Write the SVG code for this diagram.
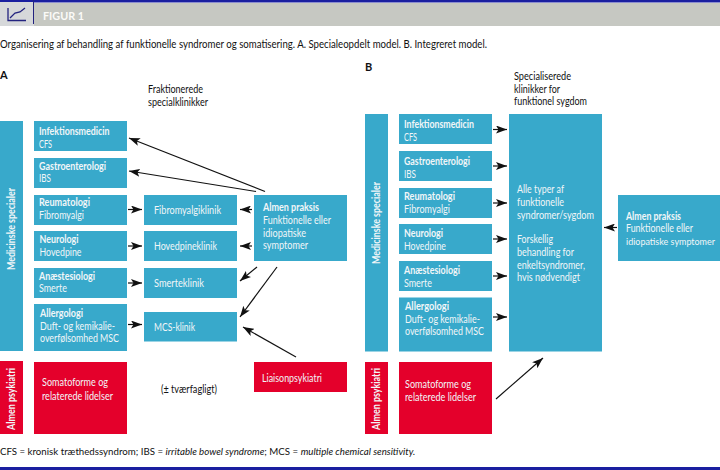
<svg xmlns="http://www.w3.org/2000/svg" width="720" height="470" viewBox="0 0 720 470">
<style>
text{font-family:Lato,"Liberation Sans",sans-serif;font-size:11px;fill:#111}
.w{fill:#f2f6f8}
.b{fill:#38a9cb}
.r{fill:#e4002b}
.c line{stroke:#111;stroke-width:1.2;marker-end:url(#a)}
.s{font-weight:700}
</style>
<defs><marker id="a" markerUnits="userSpaceOnUse" markerWidth="12" markerHeight="8" refX="11" refY="4" orient="auto"><path d="M0 0L11 4L0 8L2.500 4Z" fill="#111"/></marker></defs>
<rect width="720" height="470" fill="#fff"/>
<g id="header"><rect y="3" width="720" height="23" fill="#c6c8c2"/><rect y="0" width="720" height="2.500" fill="#1a1fa0"/><rect x="0" y="2" width="34" height="24" fill="#d6d8da"/><path d="M8 8V20.500H26M10 18L15 13L20 12L25 8" fill="none" stroke="#23237f" stroke-width="1.300"/><path d="M33.500 0V24" stroke="#23237f" stroke-width="1"/><text x="43" y="19.500" textLength="41" lengthAdjust="spacingAndGlyphs" style="font-weight:700;fill:#fbfbf8">FIGUR 1</text></g>
<text x="0" y="47.500" textLength="487" lengthAdjust="spacingAndGlyphs">Organisering af behandling af funktionelle syndromer og somatisering. A. Specialeopdelt model. B. Integreret model.</text>
<text x="0" y="79" class="s">A</text>
<text x="148" y="93" textLength="55" lengthAdjust="spacingAndGlyphs">Fraktionerede</text><text x="148" y="105.500" textLength="60" lengthAdjust="spacingAndGlyphs">specialklinikker</text>
<text x="365" y="71" class="s">B</text>
<text x="514" y="80" textLength="57" lengthAdjust="spacingAndGlyphs">Specialiserede</text><text x="514" y="92.500" textLength="46" lengthAdjust="spacingAndGlyphs">klinikker for</text><text x="514" y="105" textLength="73" lengthAdjust="spacingAndGlyphs">funktionel sygdom</text>

<g id="a-med"><rect class="b" x="0" y="121" width="23" height="230"/><text class="w s" transform="translate(15 270) rotate(-90)" textLength="82" lengthAdjust="spacingAndGlyphs">Medicinske specialer</text></g>
<g id="a-inf"><rect class="b" x="34" y="121" width="93" height="30"/><text class="w s" x="39" y="135" textLength="70.500" lengthAdjust="spacingAndGlyphs">Infektionsmedicin</text><text class="w" x="39" y="147.500" textLength="13" lengthAdjust="spacingAndGlyphs">CFS</text></g>
<g id="a-gas"><rect class="b" x="34" y="158" width="93" height="30"/><text class="w s" x="39" y="169.500" textLength="67" lengthAdjust="spacingAndGlyphs">Gastroenterologi</text><text class="w" x="39" y="182" textLength="12" lengthAdjust="spacingAndGlyphs">IBS</text></g>
<g id="a-reu"><rect class="b" x="34" y="195" width="93" height="30"/><text class="w s" x="39" y="206" textLength="51" lengthAdjust="spacingAndGlyphs">Reumatologi</text><text class="w" x="39" y="218.500" textLength="45" lengthAdjust="spacingAndGlyphs">Fibromyalgi</text></g>
<g id="a-neu"><rect class="b" x="34" y="231" width="93" height="30"/><text class="w s" x="39.500" y="243" textLength="39" lengthAdjust="spacingAndGlyphs">Neurologi</text><text class="w" x="39.500" y="255.500" textLength="42" lengthAdjust="spacingAndGlyphs">Hovedpine</text></g>
<g id="a-ana"><rect class="b" x="34" y="268" width="93" height="30"/><text class="w s" x="39" y="279.500" textLength="56" lengthAdjust="spacingAndGlyphs">Anæstesiologi</text><text class="w" x="39" y="292" textLength="28" lengthAdjust="spacingAndGlyphs">Smerte</text></g>
<g id="a-all"><rect class="b" x="34" y="304" width="93" height="47"/><text class="w s" x="40" y="317" textLength="43" lengthAdjust="spacingAndGlyphs">Allergologi</text><text class="w" x="40" y="329.500" textLength="75" lengthAdjust="spacingAndGlyphs">Duft- og kemikalie-</text><text class="w" x="40" y="342" textLength="79" lengthAdjust="spacingAndGlyphs">overfølsomhed MSC</text></g>
<g id="a-fib"><rect class="b" x="144" y="195" width="93" height="30"/><text class="w" x="154" y="214" textLength="67" lengthAdjust="spacingAndGlyphs">Fibromyalgiklinik</text></g>
<g id="a-hov"><rect class="b" x="144" y="231" width="93" height="30"/><text class="w" x="154" y="250" textLength="63" lengthAdjust="spacingAndGlyphs">Hovedpineklinik</text></g>
<g id="a-sme"><rect class="b" x="144" y="268" width="93" height="30"/><text class="w" x="154" y="287" textLength="50" lengthAdjust="spacingAndGlyphs">Smerteklinik</text></g>
<g id="a-mcs"><rect class="b" x="144" y="312" width="93" height="29.500"/><text class="w" x="154" y="331" textLength="41" lengthAdjust="spacingAndGlyphs">MCS-klinik</text></g>
<g id="a-alm"><rect class="b" x="254" y="195" width="93" height="66"/><text class="w s" x="263" y="211" textLength="56" lengthAdjust="spacingAndGlyphs">Almen praksis</text><text class="w" x="263" y="224" textLength="68" lengthAdjust="spacingAndGlyphs">Funktionelle eller</text><text class="w" x="263" y="236.500" textLength="43" lengthAdjust="spacingAndGlyphs">idiopatiske</text><text class="w" x="263" y="249" textLength="45" lengthAdjust="spacingAndGlyphs">symptomer</text></g>
<g id="a-psy"><rect class="r" x="0" y="361" width="23" height="73"/><text class="w s" transform="translate(15 430) rotate(-90)" textLength="62" lengthAdjust="spacingAndGlyphs">Almen psykiatri</text></g>
<g id="a-som"><rect class="r" x="34" y="362" width="93" height="72"/><text class="w" x="42" y="386" textLength="66" lengthAdjust="spacingAndGlyphs">Somatoforme og</text><text class="w" x="42" y="400" textLength="71" lengthAdjust="spacingAndGlyphs">relaterede lidelser</text></g>
<g id="a-lia"><rect class="r" x="254" y="362" width="93" height="30"/><text class="w" x="262" y="382" textLength="60" lengthAdjust="spacingAndGlyphs">Liaisonpsykiatri</text></g>
<text x="161" y="393" textLength="56" lengthAdjust="spacingAndGlyphs">(± tværfagligt)</text>

<g id="b-med"><rect class="b" x="365" y="114" width="23" height="237.500"/><text class="w s" transform="translate(380 264) rotate(-90)" textLength="82" lengthAdjust="spacingAndGlyphs">Medicinske specialer</text></g>
<g id="b-inf"><rect class="b" x="399" y="114" width="93" height="30"/><text class="w s" x="404" y="128" textLength="70" lengthAdjust="spacingAndGlyphs">Infektionsmedicin</text><text class="w" x="404" y="140.500" textLength="13" lengthAdjust="spacingAndGlyphs">CFS</text></g>
<g id="b-gas"><rect class="b" x="399" y="151" width="93" height="30"/><text class="w s" x="404" y="165" textLength="66" lengthAdjust="spacingAndGlyphs">Gastroenterologi</text><text class="w" x="404" y="177.500" textLength="12" lengthAdjust="spacingAndGlyphs">IBS</text></g>
<g id="b-reu"><rect class="b" x="399" y="188" width="93" height="30"/><text class="w s" x="404" y="200" textLength="51" lengthAdjust="spacingAndGlyphs">Reumatologi</text><text class="w" x="404" y="213" textLength="46" lengthAdjust="spacingAndGlyphs">Fibromyalgi</text></g>
<g id="b-neu"><rect class="b" x="399" y="224" width="93" height="30"/><text class="w s" x="404" y="237" textLength="39" lengthAdjust="spacingAndGlyphs">Neurologi</text><text class="w" x="404" y="249.500" textLength="42" lengthAdjust="spacingAndGlyphs">Hovedpine</text></g>
<g id="b-ana"><rect class="b" x="399" y="261" width="93" height="30"/><text class="w s" x="404" y="274" textLength="56" lengthAdjust="spacingAndGlyphs">Anæstesiologi</text><text class="w" x="404" y="286.500" textLength="28" lengthAdjust="spacingAndGlyphs">Smerte</text></g>
<g id="b-all"><rect class="b" x="399" y="297.500" width="93" height="54"/><text class="w s" x="405" y="310" textLength="44" lengthAdjust="spacingAndGlyphs">Allergologi</text><text class="w" x="405" y="322.500" textLength="75" lengthAdjust="spacingAndGlyphs">Duft- og kemikalie-</text><text class="w" x="405" y="335" textLength="79" lengthAdjust="spacingAndGlyphs">overfølsomhed MSC</text></g>
<g id="b-big"><rect class="b" x="509" y="114" width="93" height="237.500"/><text class="w" x="517" y="193" textLength="47" lengthAdjust="spacingAndGlyphs">Alle typer af</text><text class="w" x="517" y="206" textLength="47" lengthAdjust="spacingAndGlyphs">funktionelle</text><text class="w" x="517" y="218.500" textLength="77" lengthAdjust="spacingAndGlyphs">syndromer/sygdom</text><text class="w" x="517" y="243" textLength="36" lengthAdjust="spacingAndGlyphs">Forskellig</text><text class="w" x="517" y="256" textLength="57" lengthAdjust="spacingAndGlyphs">behandling for</text><text class="w" x="517" y="268.500" textLength="68" lengthAdjust="spacingAndGlyphs">enkeltsyndromer,</text><text class="w" x="517" y="281" textLength="63" lengthAdjust="spacingAndGlyphs">hvis nødvendigt</text></g>
<g id="b-alm"><rect class="b" x="618" y="195" width="102" height="66"/><text class="w s" x="626" y="220" textLength="55" lengthAdjust="spacingAndGlyphs">Almen praksis</text><text class="w" x="626" y="232" textLength="67" lengthAdjust="spacingAndGlyphs">Funktionelle eller</text><text class="w" x="626" y="245" style="font-size:9.500px" textLength="89" lengthAdjust="spacingAndGlyphs">idiopatiske symptomer</text></g>
<g id="b-psy"><rect class="r" x="365" y="362" width="23" height="72"/><text class="w s" transform="translate(380 430) rotate(-90)" textLength="62" lengthAdjust="spacingAndGlyphs">Almen psykiatri</text></g>
<g id="b-som"><rect class="r" x="399" y="362" width="93" height="72"/><text class="w" x="405" y="388" textLength="66" lengthAdjust="spacingAndGlyphs">Somatoforme og</text><text class="w" x="405" y="400.500" textLength="71" lengthAdjust="spacingAndGlyphs">relaterede lidelser</text></g>

<text x="0" y="454.500" style="font-size:9.700px">CFS = kronisk træthedssyndrom; IBS = <tspan font-style="italic">irritable bowel syndrome</tspan>; MCS = <tspan font-style="italic">multiple chemical sensitivity.</tspan></text>
<rect id="footer" y="467" width="720" height="3" fill="#1a1fa0"/>

<g id="connectors" class="c">
<line x1="265" y1="191.500" x2="129" y2="138"/>
<line x1="256" y1="191.500" x2="129" y2="171"/>
<line x1="128" y1="209.500" x2="142" y2="209.500"/>
<line x1="128" y1="246" x2="142" y2="246"/>
<line x1="128" y1="283" x2="142" y2="283"/>
<line x1="128" y1="324.500" x2="142" y2="324.500"/>
<line x1="252" y1="209.500" x2="240" y2="209.500"/>
<line x1="252" y1="246" x2="240" y2="246"/>
<line x1="257" y1="267" x2="240" y2="281"/>
<line x1="277" y1="267" x2="240" y2="317"/>
<line x1="296" y1="357" x2="243" y2="327"/>
<line x1="493" y1="129.500" x2="507" y2="129.500"/>
<line x1="493" y1="166" x2="507" y2="166"/>
<line x1="493" y1="203" x2="507" y2="203"/>
<line x1="493" y1="239" x2="507" y2="239"/>
<line x1="493" y1="276" x2="507" y2="276"/>
<line x1="493" y1="317" x2="507" y2="317"/>
<line x1="617" y1="227.500" x2="604" y2="227.500"/>
<line x1="496" y1="399" x2="543" y2="358"/>
</g>
</svg>
